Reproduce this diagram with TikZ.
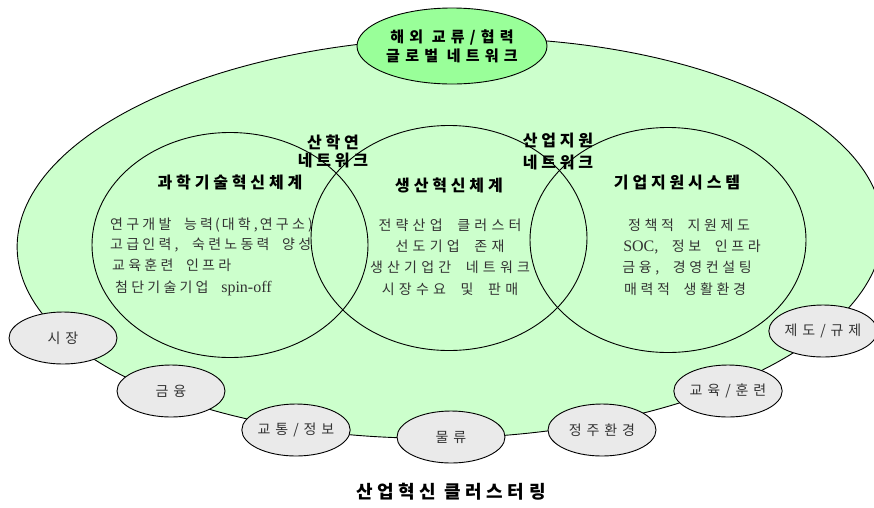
\documentclass[tikz,border=0pt]{standalone}
\usepackage{fontspec}
\usetikzlibrary{shapes.geometric}
\newfontfamily\krA[LetterSpace=23, WordSpace=2.0]{Noto Sans CJK KR}
\newfontfamily\krB[LetterSpace=30, WordSpace=2.0]{Noto Sans CJK KR}
\newfontfamily\krC[LetterSpace=26, WordSpace=2.0]{Noto Sans CJK KR}
\newfontfamily\krL[LetterSpace=35]{Noto Sans CJK KR}
\newfontfamily\krT[LetterSpace=24, BoldFont={Noto Sans CJK KR Black}]{Noto Sans CJK KR}
\newfontfamily\krG[LetterSpace=35, BoldFont={Noto Sans CJK KR Black}]{Noto Sans CJK KR}
\newfontfamily\krH[LetterSpace=25, BoldFont={Noto Sans CJK KR Black}]{Noto Sans CJK KR}
\newfontfamily\latS{Liberation Serif}
\definecolor{outergreen}{HTML}{CCFFCC}
\definecolor{topgreen}{HTML}{99FF99}
\definecolor{minorgray}{HTML}{EAEAEA}
\definecolor{bodytext}{HTML}{333333}
\begin{document}
\begin{tikzpicture}[x=1pt,y=-1pt,
  shapeline/.style={draw=black, line width=0.9pt, ellipse, inner sep=0pt},
  outerell/.style={shapeline, fill=outergreen},
  topell/.style={shapeline, fill=topgreen},
  ring/.style={shapeline, minimum width=276pt, minimum height=225pt},
  minor/.style={shapeline, fill=minorgray, minimum width=108pt, minimum height=52pt,
    font=\krL\fontsize{14}{16}\selectfont, text=bodytext},
  txt/.style={inner sep=0pt, text height=0.88em, text depth=0.12em},
  bodyA/.style={txt, font=\krA\fontsize{14}{16}\selectfont, text=bodytext},
  bodyB/.style={txt, font=\krB\fontsize{14}{16}\selectfont, text=bodytext},
  bodyC/.style={txt, font=\krC\fontsize{14}{16}\selectfont, text=bodytext},
  titletxt/.style={txt, font=\krT\bfseries\fontsize{16}{18}\selectfont, text=black},
  toptxt/.style={txt, font=\krG\bfseries\fontsize{15}{17}\selectfont, text=black},
  captiontxt/.style={txt, font=\krH\bfseries\fontsize{18}{20}\selectfont, text=black}
]
\useasboundingbox (0,0) rectangle (874,507);

% outer cluster ellipse
\node[outerell, minimum width=866pt, minimum height=400pt, rotate=1.5] (outer) at (450,238) {};
% top ellipse
\node[topell, minimum width=190pt, minimum height=76pt] (global) at (452,46) {};
% three systems
\node[ring] (leftsys) at (230,245) {};
\node[ring] (midsys) at (449,238) {};
\node[ring] (rightsys) at (668,240) {};

% surrounding factors
\node[minor] (m1) at (63,338) {시장};
\node[minor] (m2) at (171,391) {금융};
\node[minor] (m3) at (296,430) {교통/정보};
\node[minor] (m4) at (451,437) {물류};
\node[minor] (m5) at (602,430) {정주환경};
\node[minor] (m6) at (728,391) {교육/훈련};
\node[minor] (m7) at (823,331) {제도/규제};

% top texts
\node[toptxt] (g1) at (452,39) {해외 교류/협력};
\node[toptxt] (g2) at (452,58) {글로벌 네트워크};

% network labels
\node[titletxt] (n1a) at (333,145) {산학연};
\node[titletxt] (n1b) at (333,163) {네트워크};
\node[titletxt] (n2a) at (558,143) {산업지원};
\node[titletxt] (n2b) at (558,165) {네트워크};

% titles
\node[titletxt] (t1) at (230,185) {과학기술혁신체계};
\node[titletxt] (t2) at (449,188) {생산혁신체계};
\node[titletxt] (t3) at (677,185) {기업지원시스템};

% left body
\node[bodyA, anchor=west] (l1) at (110,226) {연구개발 능력\hspace{2pt}(\hspace{2pt}대학,\hspace{2pt}연구소)};
\node[bodyA, anchor=west] (l2) at (110,246) {고급인력,\hspace{1pt} 숙련노동력 양성};
\node[bodyA, anchor=west] (l3) at (112,267) {교육훈련 인프라};
\node[bodyA, anchor=west] (l4) at (115,289) {첨단기술기업 {\latS\fontsize{16}{18}\selectfont spin-off}};

% middle body
\node[bodyB] (c1) at (450,227) {전략산업 클러스터};
\node[bodyB] (c2) at (450,248) {선도기업 존재};
\node[bodyB] (c3) at (450,269) {생산기업간 네트워크};
\node[bodyB] (c4) at (450,291) {시장수요 및 판매};

% right body
\node[bodyC] (r1) at (689,227) {정책적 지원제도};
\node[bodyC] (r2) at (692,248) {{\latS\fontsize{16}{18}\selectfont SOC}, 정보 인프라};
\node[bodyC] (r3) at (687,269) {금융, 경영컨설팅};
\node[bodyC] (r4) at (685,291) {매력적 생활환경};

% caption
\node[captiontxt] (cap) at (451,495) {산업혁신 클러스터링};
\end{tikzpicture}
\end{document}
